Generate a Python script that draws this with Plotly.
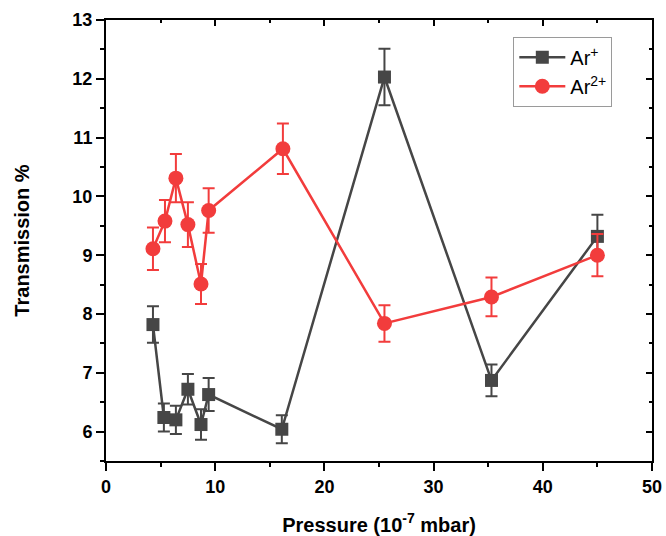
import plotly.graph_objects as go

# Pressure in units of 1e-7 mbar
pressure_ar1 = [4.3, 5.3, 6.4, 7.5, 8.7, 9.4, 16.1, 25.5, 35.3, 45.0]
trans_ar1 = [7.82, 6.24, 6.20, 6.72, 6.12, 6.63, 6.04, 12.03, 6.87, 9.32]
err_ar1 = [0.31, 0.24, 0.24, 0.26, 0.26, 0.28, 0.24, 0.48, 0.27, 0.37]

pressure_ar2 = [4.3, 5.4, 6.4, 7.5, 8.7, 9.4, 16.2, 25.5, 35.3, 45.0]
trans_ar2 = [9.11, 9.58, 10.31, 9.52, 8.51, 9.76, 10.81, 7.84, 8.29, 9.00]
err_ar2 = [0.36, 0.36, 0.41, 0.38, 0.34, 0.38, 0.43, 0.31, 0.33, 0.36]

x_ticks = [0, 10, 20, 30, 40, 50]
x_minor = [5, 15, 25, 35, 45]
y_ticks = [6, 7, 8, 9, 10, 11, 12, 13]
y_minor = [5.5, 6.5, 7.5, 8.5, 9.5, 10.5, 11.5, 12.5]

GRAY = "#464646"
RED = "#f23c3c"
FAMILY = "Liberation Sans, Arial, sans-serif"
TICK_FONT = dict(family=FAMILY, size=18, color="black", weight="bold")
TITLE_FONT = dict(family=FAMILY, size=20, color="black", weight="bold")

fig = go.Figure()
fig.add_trace(go.Scatter(
    x=pressure_ar1, y=trans_ar1, name="Ar<sup>+</sup>",
    mode="lines+markers",
    line=dict(color=GRAY, width=2.5),
    marker=dict(symbol="square", size=13, color=GRAY),
    error_y=dict(type="data", array=err_ar1, color=GRAY, thickness=2, width=6),
))
fig.add_trace(go.Scatter(
    x=pressure_ar2, y=trans_ar2, name="Ar<sup>2+</sup>",
    mode="lines+markers",
    line=dict(color=RED, width=2.5),
    marker=dict(symbol="circle", size=15, color=RED),
    error_y=dict(type="data", array=err_ar2, color=RED, thickness=2, width=6),
))
# transparent copy on the top/right axes so those frame axes are drawn
fig.add_trace(go.Scatter(x=pressure_ar1, y=trans_ar1, xaxis="x2", yaxis="y2",
                         mode="markers", marker=dict(opacity=0), showlegend=False,
                         hoverinfo="skip"))

axis_common = dict(showgrid=False, zeroline=False, linecolor="black", linewidth=2,
                   tickcolor="black", tickwidth=2)

fig.update_layout(
    width=666, height=536,
    margin=dict(l=106, r=14, t=20, b=75, autoexpand=False),
    paper_bgcolor="white", plot_bgcolor="white",
    xaxis=dict(range=[0, 50], tickmode="array", tickvals=x_ticks, mirror=True,
               ticks="outside", ticklen=8,
               minor=dict(tickmode="array", tickvals=x_minor, ticks="outside", ticklen=4,
                          tickcolor="black", tickwidth=2),
               tickfont=TICK_FONT,
               title=dict(text="Pressure (10<sup>-7</sup> mbar)", font=TITLE_FONT, standoff=22),
               **axis_common),
    yaxis=dict(range=[5.5, 13], tickmode="array", tickvals=y_ticks, mirror=True,
               ticks="outside", ticklen=8,
               minor=dict(tickmode="array", tickvals=y_minor, ticks="outside", ticklen=4,
                          tickcolor="black", tickwidth=2),
               tickfont=TICK_FONT,
               title=dict(text="Transmission %", font=TITLE_FONT, standoff=37),
               **axis_common),
    xaxis2=dict(range=[0, 50], overlaying="x", side="top", anchor="y2",
                tickmode="array", tickvals=x_ticks, ticks="inside", ticklen=6,
                showticklabels=False,
                minor=dict(tickmode="array", tickvals=x_minor, ticks="inside", ticklen=3,
                           tickcolor="black", tickwidth=2),
                **axis_common),
    yaxis2=dict(range=[5.5, 13], overlaying="y", side="right", anchor="x2",
                tickmode="array", tickvals=y_ticks, ticks="inside", ticklen=6,
                showticklabels=False,
                minor=dict(tickmode="array", tickvals=y_minor, ticks="inside", ticklen=3,
                           tickcolor="black", tickwidth=2),
                **axis_common),
    legend=dict(x=0.746, y=0.962, xanchor="left", yanchor="top",
                bordercolor="#9a9a9a", borderwidth=1, bgcolor="white",
                font=dict(family=FAMILY, size=20, color="black"),
                itemwidth=46, tracegroupgap=2),
    showlegend=True,
)

fig.write_html("out.html")
